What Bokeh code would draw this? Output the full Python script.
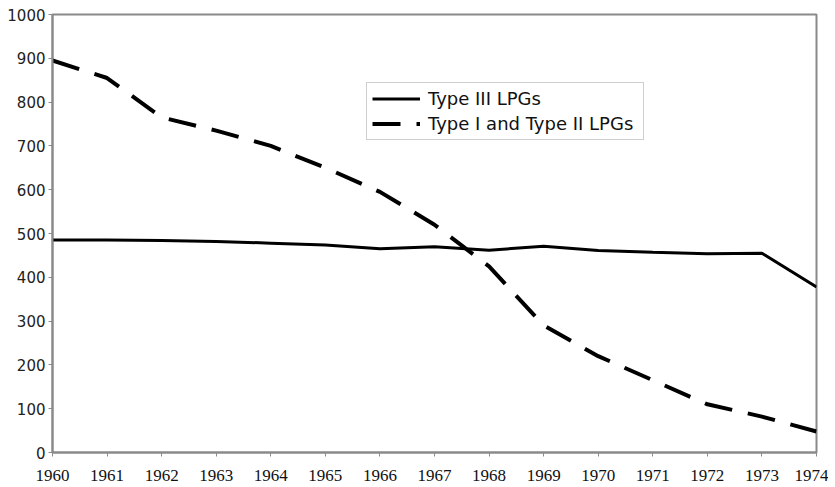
from bokeh.plotting import figure
from bokeh.models import Range1d, FixedTicker, Legend, LegendItem
from bokeh.embed import file_html
from bokeh.resources import INLINE

years = list(range(1960, 1975))
type3 = [485, 485, 484, 482, 478, 474, 465, 470, 462, 471, 461, 457, 454, 455, 378]
type12 = [895, 855, 765, 735, 700, 650, 595, 520, 425, 290, 220, 165, 110, 82, 48]
y_ticks = list(range(0, 1001, 100))

p = figure(width=828, height=487, output_backend="svg", toolbar_location=None,
           x_range=Range1d(1960, 1974), y_range=Range1d(0, 1000),
           min_border_left=52, min_border_right=12, min_border_top=14, min_border_bottom=35)

p.xgrid.visible = False
p.ygrid.visible = False
p.outline_line_color = "#8a8a8a"
p.outline_line_width = 2

r1 = p.line(years, type3, line_color="black", line_width=3)
r2 = p.line(years, type12, line_color="black", line_width=4, line_dash="28 16")

p.xaxis.ticker = FixedTicker(ticks=years)
p.yaxis.ticker = FixedTicker(ticks=y_ticks)
for ax in (p.xaxis[0], p.yaxis[0]):
    ax.axis_line_color = "#8a8a8a"
    ax.axis_line_width = 2
    ax.major_tick_line_color = "#8a8a8a"
    ax.major_tick_out = 4
    ax.major_tick_in = 0
    ax.minor_tick_line_color = None

p.yaxis.major_label_text_font = "DejaVu Sans"
p.yaxis.major_label_text_font_size = "15px"
p.yaxis.major_label_text_color = "#222222"
p.yaxis.major_label_standoff = 3

p.xaxis.major_label_text_font = "Liberation Serif"
p.xaxis.major_label_text_font_size = "17px"
p.xaxis.major_label_text_color = "#111111"
p.xaxis.major_label_standoff = 13

legend = Legend(items=[LegendItem(label="Type III LPGs", renderers=[r1]),
                       LegendItem(label="Type I and Type II LPGs", renderers=[r2])],
                location=(314, 312))
legend.label_text_font = "DejaVu Sans"
legend.label_text_font_size = "18px"
legend.label_text_color = "#111111"
legend.label_height = 21
legend.glyph_height = 21
legend.label_width = 210
legend.border_line_color = "#a0a0a0"
legend.border_line_width = 1
legend.glyph_width = 48
legend.spacing = 4
legend.padding = 5
legend.margin = 0
legend.label_standoff = 8
legend.background_fill_alpha = 1
p.add_layout(legend)

open("out.html", "w").write(file_html(p, INLINE))
